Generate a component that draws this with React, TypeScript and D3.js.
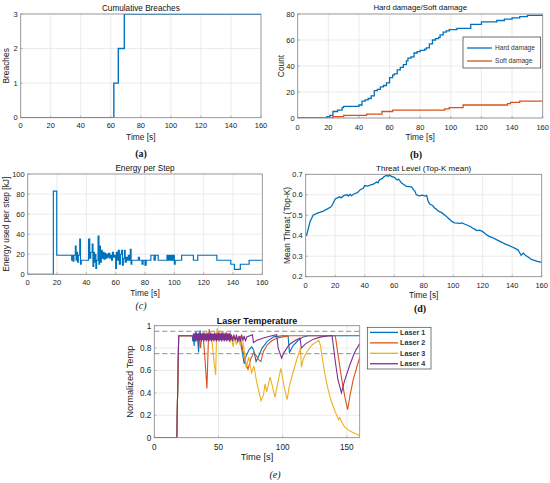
import * as d3 from 'd3';
import type { ReactNode } from 'react';

type Pt = [number, number];

const BLUE = '#0072BD';
const ORANGE = '#D95319';
const YELLOW = '#EDB120';
const PURPLE = '#7E2F8E';

const timeTicks = [0, 20, 40, 60, 80, 100, 120, 140, 160];
const laserTimeTicks = [0, 50, 100, 150];
const breachTicks = [0, 1, 2, 3];
const countTicks = [0, 20, 40, 60, 80];
const energyTicks = [0, 20, 40, 60, 80, 100];
const threatTicks = [0.2, 0.3, 0.4, 0.5, 0.6, 0.7];
const tempTicks = [0, 0.2, 0.4, 0.6, 0.8, 1];
const tempLimits = [0.95, 0.75];

const breaches: Pt[] = [[0, 0], [62, 1], [65, 2], [69, 3], [160, 3]];

const hardDamage: Pt[] = [
  [0, 0], [19, 1], [21, 2], [23, 5], [26, 6], [29, 8], [30, 9], [40, 10], [42, 13], [44, 14],
  [46, 15], [48, 17], [50, 21], [52, 22], [54, 24], [56, 25], [58, 27], [60, 31], [62, 33],
  [63, 34], [65, 37], [67, 39], [69, 41], [71, 44], [72, 46], [74, 47], [76, 50], [78, 51],
  [80, 52], [83, 53], [84, 54], [86, 57], [88, 60], [90, 61], [92, 62], [93, 64], [95, 66],
  [97, 67], [99, 68], [104, 69], [113, 72], [120, 74], [130, 75], [135, 76], [140, 77],
  [145, 78], [150, 79], [160, 79],
];

const softDamage: Pt[] = [
  [0, 0], [23, 1], [30, 2], [45, 3], [55, 5], [62, 6], [96, 7], [99, 8], [108, 10],
  [137, 11], [139, 12], [145, 13], [160, 13],
];

const energy: Pt[] = [
  [0, 0], [17.5, 83], [19.8, 19], [30, 14], [30.5, 19], [31, 13], [31.5, 19], [32.5, 28],
  [33, 14], [33.5, 22], [34, 12], [34.5, 19], [35.5, 35], [36, 10], [36.5, 14], [41.5, 35],
  [42.3, 16], [43, 22], [44, 30], [44.5, 8], [45, 22], [45.5, 12], [46, 20], [46.5, 6],
  [47, 14], [48, 38], [48.6, 10], [49, 28], [49.6, 12], [50.2, 24], [50.8, 16], [51.5, 22],
  [52, 15], [52.7, 21], [53.3, 16], [54, 20], [54.6, 17], [55.2, 21], [56, 16], [56.6, 19],
  [57.2, 14], [57.8, 22], [58.5, 17], [59.2, 19], [60, 6], [60.5, 22], [61.2, 14], [61.8, 24],
  [62.5, 10], [63.2, 20], [64, 24], [64.6, 9], [65.2, 16], [66, 24], [66.5, 12], [67.2, 17],
  [68, 14], [68.6, 19], [69.3, 14], [70, 25], [70.5, 10], [71, 14], [75.5, 17], [76.2, 14],
  [78, 10], [78.7, 14], [80, 9], [80.8, 14], [84, 19], [86.2, 14], [87, 19], [89, 14],
  [95, 19], [95.6, 14], [96.3, 19], [97, 14], [97.7, 19], [98.4, 14], [99.2, 19], [100, 10],
  [100.6, 14], [105, 19], [113, 14], [116, 19], [129, 14], [138.5, 10], [141, 5], [145, 10],
  [151, 14], [160, 14],
];

const threat: Pt[] = [
  [0.5, 0.4], [3, 0.47], [5, 0.5], [8, 0.51], [12, 0.52], [17, 0.54], [18, 0.55], [20, 0.58],
  [23, 0.59], [24, 0.585], [26, 0.597], [28, 0.6], [29, 0.594], [30, 0.602], [31, 0.596],
  [33, 0.605], [35, 0.61], [37, 0.625], [39, 0.632], [40, 0.645], [42, 0.642], [44, 0.648],
  [46, 0.652], [48, 0.662], [49, 0.658], [50, 0.672], [52, 0.68], [53, 0.688], [55, 0.695],
  [56, 0.69], [57, 0.698], [58, 0.69], [60, 0.685], [62, 0.672], [63, 0.676], [65, 0.657],
  [67, 0.648], [68, 0.642], [70, 0.64], [72, 0.638], [73, 0.625], [74, 0.618], [75, 0.6],
  [77, 0.595], [79, 0.598], [81, 0.594], [82, 0.597], [83, 0.57], [84, 0.555], [86, 0.548],
  [87, 0.538], [89, 0.527], [90, 0.52], [92, 0.514], [93, 0.508], [95, 0.497], [96, 0.49],
  [98, 0.477], [99, 0.47], [101, 0.463], [103, 0.462], [105, 0.46], [106, 0.463], [108, 0.456],
  [110, 0.45], [112, 0.444], [113, 0.438], [115, 0.43], [116, 0.425], [118, 0.427], [120, 0.42],
  [122, 0.408], [124, 0.398], [127, 0.39], [129, 0.382], [131, 0.375], [133, 0.368], [135, 0.36],
  [138, 0.352], [140, 0.345], [142, 0.338], [144, 0.33], [145, 0.318], [146, 0.305],
  [147.5, 0.315], [149, 0.305], [150, 0.3], [152, 0.29], [153, 0.285], [155, 0.28],
  [157, 0.275], [160, 0.27],
];

const laser1: Pt[] = [
  [0, 0], [17.5, 0], [19, 0.91], [29.5, 0.91], [30, 0.86], [30.5, 0.93], [31, 0.82], [31.5, 0.92],
  [32, 0.86], [32.5, 0.95], [33, 0.87], [33.5, 0.93], [34.5, 0.76], [35.2, 0.92], [35.7, 0.96],
  [36.3, 0.88], [37, 0.92], [40, 0.9], [45, 0.92], [50, 0.9], [55, 0.91], [60, 0.9], [64, 0.88],
  [66, 0.9], [68, 0.8], [70, 0.66], [71.5, 0.73], [74, 0.79], [76, 0.81], [77.5, 0.78],
  [79.3, 0.68], [81, 0.72], [84, 0.8], [88, 0.86], [93, 0.9], [100, 0.91], [104.2, 0.91],
  [105.3, 0.76], [108, 0.82], [112, 0.87], [116, 0.9], [120, 0.91], [160, 0.91],
];

const laser2: Pt[] = [
  [0, 0], [17.5, 0], [19, 0.91], [33, 0.91], [34, 0.85], [34.8, 0.92], [36, 0.8], [37, 0.9],
  [38, 0.92], [39.5, 0.7], [41, 0.44], [42.2, 0.9], [42.8, 0.97], [43.5, 0.88], [45, 0.91],
  [50, 0.9], [55, 0.91], [60, 0.9], [65, 0.88], [67, 0.9], [69, 0.78], [71, 0.68], [73, 0.61],
  [75, 0.7], [77.5, 0.76], [79, 0.74], [81, 0.7], [83, 0.68], [85, 0.77], [88, 0.83], [92, 0.87],
  [96, 0.89], [100, 0.9], [106, 0.91], [141, 0.91], [143, 0.75], [146, 0.52], [148.5, 0.36],
  [150.6, 0.25], [152.5, 0.38], [155, 0.52], [158, 0.64], [160, 0.72],
];

const laser3: Pt[] = [
  [0, 0], [17.5, 0], [19, 0.91], [38, 0.91], [39, 0.95], [40, 0.88], [44, 0.92], [45, 0.85],
  [46.5, 0.68], [47.8, 0.56], [48.5, 0.93], [49, 0.98], [49.6, 0.9], [50.5, 0.96], [51, 0.88],
  [52, 0.95], [53, 0.89], [54, 0.95], [55, 0.88], [56, 0.94], [57, 0.89], [58, 0.93], [59, 0.85],
  [60, 0.9], [61.5, 0.81], [62.5, 0.9], [64, 0.83], [65.5, 0.9], [67, 0.82], [68.5, 0.9],
  [70, 0.78], [71.5, 0.62], [73.5, 0.72], [75.8, 0.58], [77.6, 0.64], [79.7, 0.5], [83.1, 0.33],
  [85, 0.38], [86.3, 0.48], [87.6, 0.41], [90.2, 0.54], [92, 0.46], [94, 0.36], [96, 0.48],
  [98.6, 0.62], [101, 0.46], [103.5, 0.34], [105, 0.45], [108, 0.58], [111, 0.7], [113, 0.77],
  [113.8, 0.8], [114.6, 0.63], [116, 0.7], [119, 0.77], [123, 0.83], [128.2, 0.87], [129.5, 0.82],
  [131, 0.7], [133, 0.56], [135, 0.45], [137, 0.36], [139, 0.29], [141, 0.23], [143.6, 0.16],
  [144.5, 0.18], [146, 0.14], [148, 0.1], [151, 0.07], [155, 0.045], [160, 0.02],
];

const laser4: Pt[] = [
  [0, 0], [17.5, 0], [19, 0.91], [30, 0.91], [30.5, 0.87], [31, 0.93], [31.5, 0.87], [32, 0.94],
  [32.5, 0.86], [33, 0.93], [33.5, 0.87], [34, 0.93], [34.5, 0.86], [35, 0.94], [35.5, 0.87],
  [36, 0.93], [36.5, 0.86], [37, 0.93], [37.5, 0.87], [38, 0.94], [38.5, 0.86], [39, 0.93],
  [39.5, 0.87], [40, 0.93], [40.5, 0.86], [41, 0.94], [41.5, 0.87], [42, 0.93], [42.5, 0.86],
  [43, 0.93], [43.5, 0.87], [44, 0.94], [44.5, 0.86], [45, 0.93], [45.5, 0.87], [46, 0.93],
  [46.5, 0.86], [47, 0.94], [47.5, 0.87], [48, 0.93], [48.5, 0.86], [49, 0.93], [49.5, 0.87],
  [50, 0.94], [50.5, 0.86], [51, 0.93], [51.5, 0.87], [52, 0.93], [52.5, 0.86], [53, 0.94],
  [53.5, 0.87], [54, 0.93], [54.5, 0.86], [55, 0.93], [55.5, 0.87], [56, 0.94], [56.5, 0.86],
  [57, 0.93], [57.5, 0.87], [58, 0.93], [58.5, 0.86], [59, 0.94], [59.5, 0.87], [60, 0.92],
  [61, 0.86], [62, 0.92], [63, 0.87], [64, 0.92], [65, 0.85], [66, 0.91], [67, 0.86], [68, 0.92],
  [69, 0.87], [70, 0.91], [71, 0.86], [72, 0.9], [76.5, 0.92], [77.2, 0.85], [80, 0.87],
  [85, 0.89], [90, 0.905], [95.3, 0.92], [96.5, 0.8], [99.2, 0.71], [101, 0.76], [105, 0.83],
  [110, 0.87], [113.5, 0.89], [114.5, 0.8], [118, 0.84], [124, 0.88], [130, 0.9], [136.5, 0.91],
  [138.5, 0.91], [141, 0.68], [143, 0.52], [145.8, 0.4], [148, 0.5], [152, 0.64], [156, 0.76],
  [160, 0.84],
];

const damageLegend = ['Hard damage', 'Soft damage'];
const laserLegend = ['Laser 1', 'Laser 2', 'Laser 3', 'Laser 4'];

const SANS = "'Liberation Sans', Arial, sans-serif";
const SERIF = "'Liberation Serif', 'Times New Roman', serif";

type Scale = d3.ScaleLinear<number, number>;

interface AxesProps {
  id: string;
  box: { l: number; r: number; t: number; b: number };
  xDomain: [number, number];
  yDomain: [number, number];
  xTicks: number[];
  yTicks: number[];
  yFmt?: (v: number) => string;
  tickSize: number;
  xTickY: number;
  title: string;
  titleY: number;
  titleSize: number;
  titleWeight?: string;
  xlabel: string;
  xlabelY: number;
  labelSize: number;
  ylabel: string;
  ylabelX: number;
  caption: string;
  captionX: number;
  captionY: number;
  captionStyle: 'bold' | 'italic';
  draw: (x: Scale, y: Scale) => ReactNode;
  overlay?: ReactNode;
}

function Axes(p: AxesProps) {
  const { l, r, t, b } = p.box;
  const x = d3.scaleLinear().domain(p.xDomain).range([l, r]);
  const y = d3.scaleLinear().domain(p.yDomain).range([b, t]);
  const fmt = p.yFmt ?? ((v: number) => String(v));
  return (
    <g>
      <defs>
        <clipPath id={`clip-${p.id}`}>
          <rect x={l} y={t} width={r - l} height={b - t} />
        </clipPath>
      </defs>
      <rect x={l} y={t} width={r - l} height={b - t} fill="#fff" />
      {p.xTicks.map((v) => (
        <line key={`gx${v}`} x1={x(v)} x2={x(v)} y1={t} y2={b} stroke="#dedede" strokeWidth={0.6} />
      ))}
      {p.yTicks.map((v) => (
        <line key={`gy${v}`} x1={l} x2={r} y1={y(v)} y2={y(v)} stroke="#dedede" strokeWidth={0.6} />
      ))}
      <g clipPath={`url(#clip-${p.id})`}>{p.draw(x, y)}</g>
      <rect x={l} y={t} width={r - l} height={b - t} fill="none" stroke="#8a8a8a" strokeWidth={0.8} />
      {p.xTicks.map((v) => (
        <line key={`tx${v}`} x1={x(v)} x2={x(v)} y1={b} y2={b - 2} stroke="#8a8a8a" strokeWidth={0.6} />
      ))}
      {p.yTicks.map((v) => (
        <line key={`ty${v}`} x1={l} x2={l + 2} y1={y(v)} y2={y(v)} stroke="#8a8a8a" strokeWidth={0.6} />
      ))}
      <g fontFamily={SANS} fontSize={p.tickSize} fill="#222">
        {p.xTicks.map((v) => (
          <text key={`lx${v}`} x={x(v)} y={p.xTickY} textAnchor="middle">{v}</text>
        ))}
        {p.yTicks.map((v) => (
          <text key={`ly${v}`} x={l - 3} y={y(v)} dy="0.35em" textAnchor="end">{fmt(v)}</text>
        ))}
      </g>
      <text x={(l + r) / 2} y={p.titleY} textAnchor="middle" fontFamily={SANS}
        fontSize={p.titleSize} fontWeight={p.titleWeight ?? 'normal'} fill="#111">{p.title}</text>
      <text x={(l + r) / 2} y={p.xlabelY} textAnchor="middle" fontFamily={SANS}
        fontSize={p.labelSize} fill="#222">{p.xlabel}</text>
      <text transform={`translate(${p.ylabelX},${(t + b) / 2}) rotate(-90)`} dy="0.35em"
        textAnchor="middle" fontFamily={SANS} fontSize={p.labelSize} fill="#222">{p.ylabel}</text>
      <text x={p.captionX} y={p.captionY} textAnchor="middle" fontFamily={SERIF} fontSize={10}
        fontWeight={p.captionStyle === 'bold' ? 'bold' : 'normal'}
        fontStyle={p.captionStyle === 'italic' ? 'italic' : 'normal'} fill="#111">{p.caption}</text>
      {p.overlay}
    </g>
  );
}

function path(data: Pt[], x: Scale, y: Scale, curve: d3.CurveFactory = d3.curveLinear) {
  return d3.line<Pt>().x((d) => x(d[0])).y((d) => y(d[1])).curve(curve)(data) ?? '';
}

export default function App() {
  const dec1 = d3.format('.1f');
  return (
    <div style={{ position: 'absolute', left: 0, top: 0, background: '#fff' }}>
      <svg width={550} height={483} viewBox="0 0 550 483">
        <rect width={550} height={483} fill="#fff" />

        {/* (a) */}
        <Axes id="a" box={{ l: 20.7, r: 261, t: 14, b: 117.7 }} xDomain={[0, 160]} yDomain={[0, 3]}
          xTicks={timeTicks} yTicks={breachTicks} tickSize={7.5} xTickY={127.7}
          title="Cumulative Breaches" titleY={11.2} titleSize={8.2}
          xlabel="Time [s]" xlabelY={140} labelSize={8.4} ylabel="Breaches" ylabelX={6}
          caption="(a)" captionX={141} captionY={156.5} captionStyle="bold"
          draw={(x, y) => (
            <path d={path(breaches, x, y, d3.curveStepAfter)} fill="none" stroke={BLUE} strokeWidth={1.4} />
          )} />

        {/* (b) */}
        <Axes id="b" box={{ l: 297.7, r: 542.7, t: 14, b: 118 }} xDomain={[0, 160]} yDomain={[0, 80]}
          xTicks={timeTicks} yTicks={countTicks} tickSize={7.5} xTickY={129.5}
          title="Hard damage/Soft damage" titleY={9.5} titleSize={7.8}
          xlabel="Time [s]" xlabelY={139.7} labelSize={8.4} ylabel="Count" ylabelX={281}
          caption="(b)" captionX={416} captionY={157.5} captionStyle="bold"
          draw={(x, y) => (
            <g>
              <path d={path(hardDamage, x, y, d3.curveStepAfter)} fill="none" stroke={BLUE} strokeWidth={1.3} />
              <path d={path(softDamage, x, y, d3.curveStepAfter)} fill="none" stroke={ORANGE} strokeWidth={1.3} />
            </g>
          )}
          overlay={
            <g>
              <rect x={463} y={37} width={77.7} height={31} fill="#fff" stroke="#333" strokeWidth={0.7} />
              {damageLegend.map((name, i) => (
                <g key={name}>
                  <line x1={467} x2={492} y1={48 + i * 13} y2={48 + i * 13}
                    stroke={i === 0 ? BLUE : ORANGE} strokeWidth={1.3} />
                  <text x={495} y={48 + i * 13} dy="0.35em" fontFamily={SANS} fontSize={6.6} fill="#333">{name}</text>
                </g>
              ))}
            </g>
          } />

        {/* (c) */}
        <Axes id="c" box={{ l: 27.7, r: 262.3, t: 174, b: 274.3 }} xDomain={[0, 160]} yDomain={[0, 100]}
          xTicks={timeTicks} yTicks={energyTicks} tickSize={7.5} xTickY={285.4}
          title="Energy per Step" titleY={171.2} titleSize={8.2}
          xlabel="Time [s]" xlabelY={295.7} labelSize={8.4} ylabel="Energy used per step [kJ]" ylabelX={6}
          caption="(c)" captionX={141} captionY={308.5} captionStyle="italic"
          draw={(x, y) => (
            <path d={path(energy, x, y, d3.curveStepAfter)} fill="none" stroke={BLUE} strokeWidth={1.2} />
          )} />

        {/* (d) */}
        <Axes id="d" box={{ l: 305.7, r: 541.7, t: 174.3, b: 276.7 }} xDomain={[0, 160]} yDomain={[0.2, 0.7]}
          xTicks={timeTicks} yTicks={threatTicks} yFmt={dec1} tickSize={7.5} xTickY={287.7}
          title="Threat Level (Top-K mean)" titleY={171} titleSize={8}
          xlabel="Time [s]" xlabelY={298} labelSize={8.4} ylabel="Mean Threat (Top-K)" ylabelX={287}
          caption="(d)" captionX={420} captionY={311.5} captionStyle="bold"
          draw={(x, y) => (
            <path d={path(threat, x, y)} fill="none" stroke={BLUE} strokeWidth={1.3} />
          )} />

        {/* (e) */}
        <Axes id="e" box={{ l: 154.3, r: 359.7, t: 325.7, b: 437.7 }} xDomain={[0, 160]} yDomain={[0, 1]}
          xTicks={laserTimeTicks} yTicks={tempTicks} tickSize={8.2} xTickY={449.5}
          title="Laser Temperature" titleY={324} titleSize={9} titleWeight="bold"
          xlabel="Time [s]" xlabelY={460} labelSize={9.3} ylabel="Normalized Temp" ylabelX={130}
          caption="(e)" captionX={275} captionY={477.5} captionStyle="italic"
          draw={(x, y) => (
            <g>
              {tempLimits.map((v) => (
                <line key={v} x1={x(0)} x2={x(160)} y1={y(v)} y2={y(v)}
                  stroke="#6e6e6e" strokeWidth={0.8} strokeDasharray="5,3" />
              ))}
              {[laser1, laser2, laser3, laser4].map((s, i) => (
                <path key={i} d={path(s, x, y)} fill="none"
                  stroke={[BLUE, ORANGE, YELLOW, PURPLE][i]} strokeWidth={1.1} />
              ))}
            </g>
          )}
          overlay={
            <g>
              <rect x={367.3} y={327.3} width={63.7} height={41.7} fill="#fff" stroke="#444" strokeWidth={0.7} />
              {laserLegend.map((name, i) => (
                <g key={name}>
                  <line x1={370} x2={398} y1={332.4 + i * 10.45} y2={332.4 + i * 10.45}
                    stroke={[BLUE, ORANGE, YELLOW, PURPLE][i]} strokeWidth={1.3} />
                  <text x={400} y={332.4 + i * 10.45} dy="0.35em" fontFamily={SANS} fontSize={7.2}
                    fontWeight="bold" fill="#333">{name}</text>
                </g>
              ))}
            </g>
          } />
      </svg>
    </div>
  );
}
